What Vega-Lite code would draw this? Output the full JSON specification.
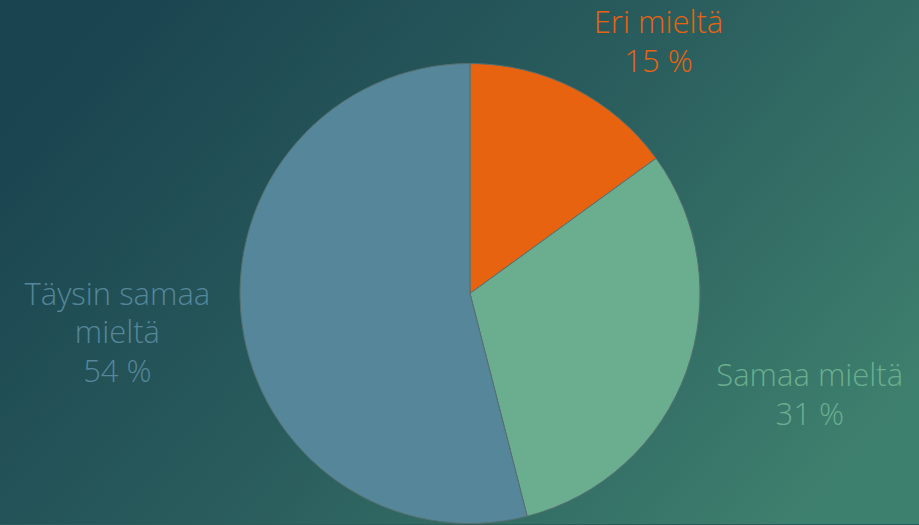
{
  "$schema": "https://vega.github.io/schema/vega-lite/v6.json",
  "autosize": {"type": "fit", "contains": "padding"},
  "width": 919,
  "height": 525,
  "padding": 0,
  "background": "#2a5c5c",
  "config": {"view": {"stroke": null}},
  "datasets": {
    "pie": [
      {"cat": "Eri mieltä", "label": "Eri mieltä", "value": 15},
      {"cat": "Samaa mieltä", "label": "Samaa mieltä", "value": 31},
      {"cat": "Täysin samaa mieltä", "label": "Täysin samaa\nmieltä", "value": 54}
    ],
    "bg": [{"id": 1}]
  },
  "layer": [
    {
      "data": {"name": "bg"},
      "mark": {
        "type": "rect",
        "fill": {
          "gradient": "linear",
          "x1": 0, "y1": 0.25, "x2": 1, "y2": 0.75,
          "stops": [
            {"offset": 0, "color": "#1a4450"},
            {"offset": 0.5, "color": "#2a5d5d"},
            {"offset": 1, "color": "#3e806e"}
          ]
        }
      },
      "encoding": {}
    },
    {
      "data": {"name": "pie"},
      "mark": {
        "type": "arc",
        "outerRadius": 230,
        "x": {"expr": "width/2 + 10.5"},
        "y": {"expr": "height/2 + 31.5"},
        "stroke": "#56706f",
        "strokeWidth": 1
      },
      "encoding": {
        "theta": {"field": "value", "type": "quantitative", "stack": true},
        "order": {"field": "value", "type": "quantitative", "sort": "ascending"},
        "color": {
          "field": "cat", "type": "nominal", "legend": null,
          "scale": {"domain": ["Eri mieltä", "Samaa mieltä", "Täysin samaa mieltä"], "range": ["#e8630f", "#6aae8f", "#55869a"]}
        }
      }
    },
    {
      "data": {"name": "pie"},
      "transform": [{"calculate": "datum.label + '\\n' + datum.value + ' %'", "as": "txt"}],
      "mark": {
        "type": "text",
        "font": "Open Sans",
        "fontSize": 31,
        "fontWeight": 300,
        "lineBreak": "\n",
        "lineHeight": 38.5,
        "align": "center",
        "baseline": "middle",
        "x": {"expr": "width/2 + 10.5"},
        "y": {"expr": "height/2 + 31.5"},
        "dy": {"expr": "-(length(split(datum.txt, '\\n')) - 1) * 19.25"},
        "radius": {"expr": "datum.cat === 'Eri mieltä' ? 313 : 355"},
        "thetaOffset": {"expr": "datum.cat === 'Eri mieltä' ? 0.175 : (datum.cat === 'Samaa mieltä' ? -0.051 : 0.01)"}
      },
      "encoding": {
        "theta": {"field": "value", "type": "quantitative", "stack": true},
        "order": {"field": "value", "type": "quantitative", "sort": "ascending"},
        "text": {"field": "txt"},
        "color": {
          "field": "cat", "type": "nominal", "legend": null,
          "scale": {"domain": ["Eri mieltä", "Samaa mieltä", "Täysin samaa mieltä"], "range": ["#e8630f", "#6aae8f", "#55869a"]}
        }
      }
    }
  ]
}
